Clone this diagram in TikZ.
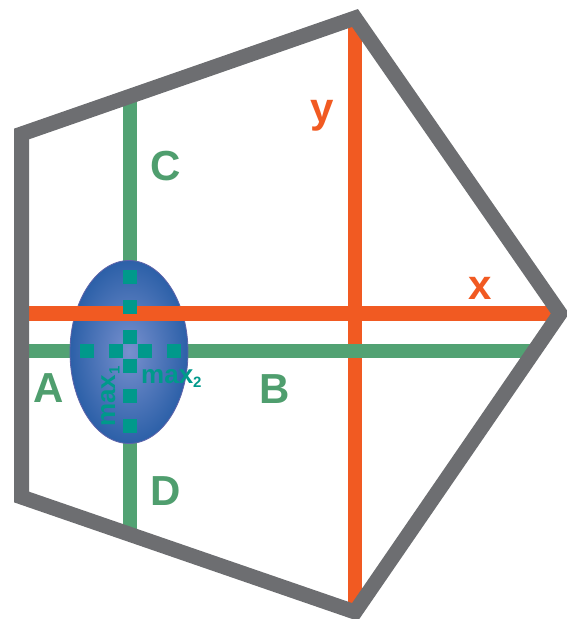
\documentclass[tikz,border=0pt]{standalone}
\usepackage{fontspec}
\setmainfont{Liberation Sans}
\usetikzlibrary{shapes.geometric}
\definecolor{gr}{RGB}{109,110,113}
\definecolor{org}{RGB}{241,90,34}
\definecolor{grn}{RGB}{82,162,115}
\definecolor{grntxt}{RGB}{79,158,110}
\definecolor{tl}{RGB}{0,153,139}
\definecolor{bin}{RGB}{120,144,206}
\definecolor{bout}{RGB}{44,96,168}
\definecolor{bedge}{RGB}{95,100,170}
\tikzset{
  gry/.style={draw=gr, line width=15, line join=miter, miter limit=10},
  oline/.style={draw=org, line width=14.5},
  gline/.style={draw=grn, line width=14.5},
  sq/.style={fill=tl, minimum size=14, inner sep=0, draw=none},
  lbl/.style={anchor=base, inner sep=0, font=\fontsize{42}{42}\selectfont\bfseries},
  mx/.style={inner sep=0, text=tl, font=\fontsize{26}{26}\selectfont\bfseries},
}
\newcommand{\subsc}[1]{\raisebox{-4.5pt}{\fontsize{15}{15}\selectfont #1}}
\begin{document}
\begin{tikzpicture}[x=1pt,y=-1pt]
\useasboundingbox (0,0) rectangle (566,619);
% pentagon vertices
\coordinate (TL) at (21.5,134);
\coordinate (T) at (355,18);
\coordinate (R) at (560,313.5);
\coordinate (B) at (355,612);
\coordinate (BL) at (21.5,497);
% line ends
\coordinate (OHl) at (21.5,313.5);
\coordinate (GHl) at (21.5,351);
\coordinate (GHr) at (534,351);
\coordinate (GVt) at (130,96);
\coordinate (GVb) at (130,534);
% orange vertical
\draw[oline] (T) -- (B);
% green lines
\draw[gline] (GHl) -- (GHr);
\draw[gline] (GVt) -- (GVb);
% ellipse
\node[ellipse, draw=bedge, line width=0.8, inner color=bin, outer color=bout,
      minimum width=118, minimum height=183, inner sep=0] (E) at (129,352) {};
% orange horizontal
\draw[oline] (OHl) -- (R);
% squares
\foreach \i/\y in {1/276.5,2/306.5,3/336.5,4/365.5,5/395.5,6/425.5}
  \node[sq] (v\i) at (130,\y) {};
\foreach \i/\x in {1/86.5,2/115.5,3/144.5,4/174}
  \node[sq] (h\i) at (\x,351) {};
% outline
\draw[gry] (TL) -- (T) -- (R) -- (B) -- (BL) -- cycle;
% labels
\node[lbl, text=grntxt] (C) at (166,180) {C};
\node[lbl, text=grntxt] (D) at (166,505) {D};
\node[lbl, text=grntxt] (A) at (48.5,402) {A};
\node[lbl, text=grntxt] (Bl) at (275,403) {B};
\node[lbl, text=org] (y) at (322,122) {y};
\node[lbl, text=org] (x) at (480,299) {x};
\node[mx, anchor=base west] (m2) at (141,383) {max\subsc{2}};
\node[mx, anchor=base west, rotate=90] (m1) at (115,427) {max\subsc{1}};
\end{tikzpicture}
\end{document}
